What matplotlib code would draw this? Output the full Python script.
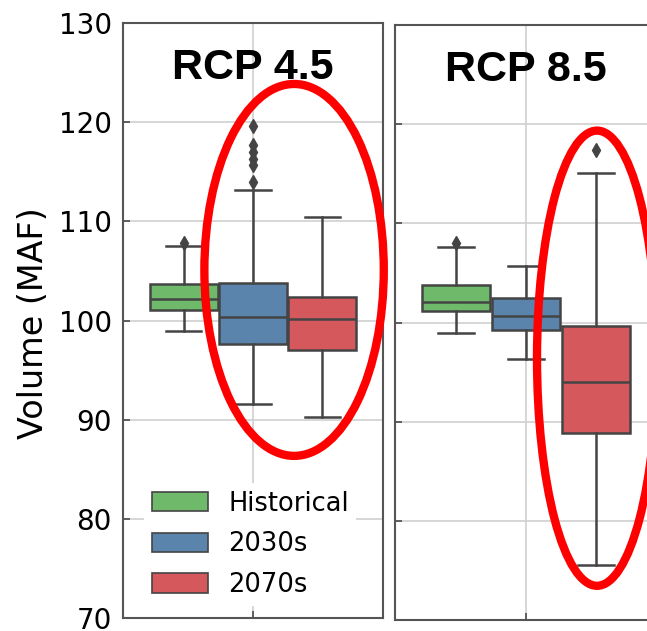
import matplotlib
matplotlib.use("Agg")
import matplotlib.pyplot as plt
from matplotlib.patches import Ellipse, Patch

# ---- data ----
groups = ["Historical", "2030s", "2070s"]
colors = ["#6fb96b", "#5b84ac", "#d5585d"]

rcp45_med = [102.2, 100.4, 100.2]
rcp45_q1 = [101.1, 97.6, 97.0]
rcp45_q3 = [103.7, 103.8, 102.4]
rcp45_lo = [98.9, 91.6, 90.3]
rcp45_hi = [107.5, 113.2, 110.4]
rcp45_fliers = [[107.8], [119.6, 117.7, 117.0, 116.3, 115.7, 114.0], []]

rcp85_med = [102.1, 100.7, 94.0]
rcp85_q1 = [101.2, 99.2, 88.9]
rcp85_q3 = [103.8, 102.5, 99.6]
rcp85_lo = [98.9, 96.3, 75.5]
rcp85_hi = [107.6, 105.7, 115.1]
rcp85_fliers = [[108.0], [], [117.4]]

titles = ["RCP 4.5", "RCP 8.5"]
yticks = [70, 80, 90, 100, 110, 120, 130]

EDGE = "#444444"

fig = plt.figure(figsize=(6.47, 6.31), dpi=100)
W, H = 647, 631
ax1 = fig.add_axes([123 / W, 13 / H, 260 / W, 595 / H])
ax2 = fig.add_axes([395 / W, 11 / H, 262 / W, 595 / H])

panels = [
    (ax1, rcp45_med, rcp45_q1, rcp45_q3, rcp45_lo, rcp45_hi, rcp45_fliers),
    (ax2, rcp85_med, rcp85_q1, rcp85_q3, rcp85_lo, rcp85_hi, rcp85_fliers),
]

positions = [-0.267, 0.0, 0.267]

for i, (ax, med, q1, q3, lo, hi, fl) in enumerate(panels):
    stats = []
    for k in range(len(groups)):
        stats.append(dict(med=med[k], q1=q1[k], q3=q3[k], whislo=lo[k],
                          whishi=hi[k], fliers=fl[k], label=groups[k]))
    bp = ax.bxp(stats, positions=positions, widths=0.262, capwidths=0.135,
                patch_artist=True, manage_ticks=False,
                boxprops=dict(edgecolor=EDGE, linewidth=1.8),
                medianprops=dict(color=EDGE, linewidth=1.8),
                whiskerprops=dict(color=EDGE, linewidth=1.8),
                capprops=dict(color=EDGE, linewidth=1.8),
                flierprops=dict(marker="d", markersize=7.5, markerfacecolor=EDGE,
                                markeredgecolor=EDGE))
    for patch, c in zip(bp["boxes"], colors):
        patch.set_facecolor(c)
    for a in bp["boxes"] + bp["medians"] + bp["whiskers"] + bp["caps"] + bp["fliers"]:
        a.set_zorder(3)

    ax.set_xlim(-0.5, 0.5)
    ax.set_ylim(70, 130)
    ax.set_yticks(yticks)
    ax.set_xticks([0])
    ax.set_xticklabels([])
    ax.grid(True, color="#cfcfcf", linewidth=1.2, zorder=0)
    ax.set_axisbelow(True)
    ax.tick_params(direction="in", length=5, width=1.3, color="#555555",
                   labelsize=20, pad=8)
    for s in ax.spines.values():
        s.set_color("#555555")
        s.set_linewidth(1.5)
    ax.text(0.0, 125.5, titles[i], ha="center", va="center", fontsize=31,
            fontweight="bold", family="Liberation Sans", zorder=5)
    if i == 1:
        ax.set_yticklabels([])

ax1.set_ylabel("Volume (MAF)", fontsize=24)
ax1.yaxis.set_label_coords(-0.281, 0.495)

handles = [Patch(facecolor=c, edgecolor=EDGE, linewidth=1.2) for c in colors]
leg = ax1.legend(handles, groups, loc="upper left", bbox_to_anchor=(0.082, 0.227),
                 borderaxespad=0, fontsize=18.5, frameon=True, framealpha=1,
                 edgecolor="none", facecolor="white", handlelength=2.18,
                 handleheight=0.78, handletextpad=0.78, labelspacing=0.57,
                 borderpad=0.3, fancybox=False)
leg.set_zorder(4)

# red annotation ellipses
e1 = Ellipse((0.158, 105.1), 0.69, 37.5, fill=False, edgecolor="#ff0000",
             linewidth=6, clip_on=False, zorder=6)
ax1.add_patch(e1)
e2 = Ellipse((0.271, 96.4), 0.458, 45.9, fill=False, edgecolor="#ff0000",
             linewidth=6, clip_on=False, zorder=6)
ax2.add_patch(e2)

fig.savefig("out.png", dpi=100)
